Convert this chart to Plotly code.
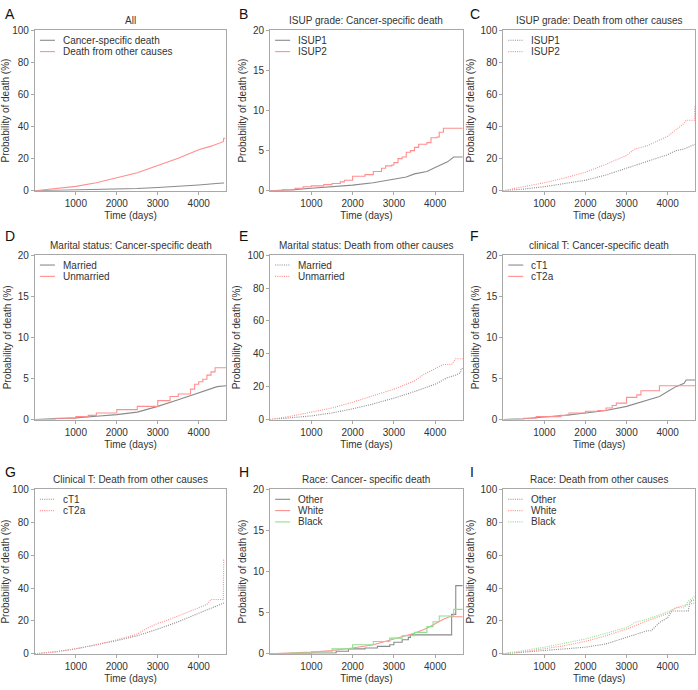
import plotly.graph_objects as go

# ---------------- data (days, % probability of death) ----------------
# A: All
A_t_csd = [0, 500, 1000, 1500, 2000, 2500, 3000, 3500, 4000, 4500, 4620]
A_csd = [0, 0.2, 0.4, 0.7, 1.0, 1.4, 2.0, 2.7, 3.6, 4.6, 4.8]
A_t_oth = [0, 500, 1000, 1500, 2000, 2500, 3000, 3500, 4000, 4300, 4600, 4610, 4650]
A_oth = [0, 1.2, 2.7, 5.0, 7.9, 11.2, 15.7, 20.2, 25.5, 27.8, 30.6, 32.7, 32.7]

# B: ISUP grade, cancer-specific
B_t_isup1 = [0, 500, 1000, 1500, 2000, 2500, 3000, 3300, 3500, 3800, 4000, 4300, 4450, 4670]
B_isup1 = [0, 0.1, 0.3, 0.5, 0.7, 1.0, 1.4, 1.7, 2.1, 2.4, 2.9, 3.6, 4.2, 4.2]
B_t_isup2 = [0, 300, 600, 800, 1000, 1300, 1500, 1700, 1800, 2000, 2300, 2500, 2700, 2800, 2950,
             3000, 3100, 3200, 3300, 3400, 3500, 3600, 3800, 3900, 4050, 4100, 4200, 4670]
B_isup2 = [0, 0.1, 0.3, 0.5, 0.6, 0.75, 0.9, 1.1, 1.3, 1.8, 2.0, 2.4, 2.8, 3.1, 3.2,
           3.5, 4.0, 4.2, 4.8, 5.0, 5.4, 5.8, 6.0, 6.6, 6.7, 7.3, 7.8, 7.8]

# C: ISUP grade, other causes
C_t_isup1 = [0, 500, 1000, 1500, 2000, 2500, 3000, 3500, 4000, 4200, 4400, 4670]
C_isup1 = [0, 1.0, 2.5, 4.3, 6.5, 9.8, 14.0, 18.0, 22.5, 25.0, 26.0, 29.0]
C_t_isup2 = [0, 500, 1000, 1500, 2000, 2500, 3000, 3200, 3500, 4000, 4200, 4400, 4450, 4650, 4660, 4670]
C_isup2 = [0, 2.5, 5.0, 8.0, 11.5, 16.5, 22.0, 26.0, 28.0, 34.0, 38.0, 42.0, 44.0, 44.0, 53.0, 53.0]

# D: Marital status, cancer-specific
D_t_married = [0, 500, 1000, 1500, 2000, 2500, 3000, 3500, 4000, 4300, 4450, 4670]
D_married = [0, 0.1, 0.2, 0.4, 0.6, 0.9, 1.6, 2.4, 3.2, 3.7, 4.0, 4.1]
D_t_unmarried = [0, 500, 1000, 1300, 1500, 2000, 2500, 3000, 3300, 3500, 3800, 3900, 4000,
                 4100, 4200, 4300, 4400, 4670]
D_unmarried = [0, 0.15, 0.35, 0.5, 0.8, 1.2, 1.6, 2.3, 2.8, 3.1, 3.7, 4.3, 4.6,
               4.9, 5.4, 5.8, 6.3, 6.3]

# E: Marital status, other causes
E_t_married = [0, 500, 1000, 1500, 2000, 2500, 3000, 3500, 4000, 4300, 4500, 4620, 4630, 4670]
E_married = [0, 0.9, 2.2, 4.0, 6.5, 9.5, 13.0, 17.0, 21.5, 25.5, 27.0, 28.5, 31.0, 31.0]
E_t_unmarried = [0, 500, 1000, 1500, 2000, 2500, 3000, 3500, 3700, 4000, 4200, 4400, 4500, 4670]
E_unmarried = [0, 2.0, 4.5, 7.0, 10.5, 14.5, 18.5, 23.5, 27.0, 31.0, 33.5, 33.5, 37.0, 37.0]

# F: Clinical T, cancer-specific
F_t_ct1 = [0, 500, 1000, 1500, 2000, 2500, 3000, 3500, 3800, 4000, 4200, 4400, 4450, 4670]
F_ct1 = [0, 0.1, 0.3, 0.5, 0.8, 1.1, 1.6, 2.4, 2.8, 3.4, 4.0, 4.4, 4.8, 4.8]
F_t_ct2a = [0, 500, 800, 1400, 1600, 2000, 2300, 2500, 2650, 2750, 3000, 3250, 3350, 3800, 4670]
F_ct2a = [0, 0.15, 0.35, 0.5, 0.8, 1.0, 1.1, 1.4, 1.7, 2.0, 2.7, 3.0, 3.5, 4.1, 4.1]

# G: Clinical T, other causes
G_t_ct1 = [0, 500, 1000, 1500, 2000, 2500, 3000, 3500, 4000, 4500, 4620]
G_ct1 = [0, 1.2, 3.0, 5.3, 8.0, 11.0, 15.0, 19.5, 24.5, 29.5, 31.0]
G_t_ct2a = [0, 500, 1000, 1500, 2000, 2500, 2700, 3000, 3300, 3600, 3800, 4000, 4200, 4300,
            4600, 4610, 4620]
G_ct2a = [0, 1.2, 3.0, 5.5, 8.5, 12.0, 15.0, 18.5, 21.0, 24.0, 26.0, 28.0, 30.0, 33.0,
          33.0, 57.0, 57.0]

# H: Race, cancer-specific
H_t_other = [0, 1000, 1600, 1900, 2300, 2600, 2900, 3000, 3200, 3350, 3400, 4400, 4450, 4500, 4670]
H_other = [0, 0.1, 0.3, 0.6, 0.7, 0.9, 1.1, 1.4, 1.7, 2.0, 2.3, 4.8, 4.8, 8.3, 8.3]
H_t_white = [0, 500, 1000, 1500, 2000, 2500, 3000, 3500, 3800, 4000, 4200, 4350, 4670]
H_white = [0, 0.1, 0.2, 0.4, 0.7, 1.1, 1.8, 2.5, 3.1, 3.7, 4.2, 4.5, 4.5]
H_t_black = [0, 500, 1000, 1500, 2000, 2500, 2900, 3200, 3500, 3800, 3950, 4100, 4450, 4670]
H_black = [0, 0.1, 0.25, 0.6, 1.1, 1.5, 1.9, 2.2, 2.6, 3.3, 3.9, 4.6, 5.4, 5.4]

# I: Race, other causes
I_t_other = [0, 500, 1000, 1500, 2000, 2500, 3000, 3500, 3600, 3800, 4000, 4100, 4500, 4550, 4670]
I_other = [0, 0.8, 2.0, 3.0, 4.0, 6.0, 10.0, 14.0, 14.0, 19.0, 22.0, 26.0, 26.0, 32.0, 33.0]
I_t_white = [0, 500, 1000, 1500, 2000, 2500, 3000, 3500, 4000, 4200, 4500, 4670]
I_white = [0, 1.2, 3.0, 5.0, 7.5, 11.0, 15.0, 20.0, 24.5, 28.0, 30.0, 31.0]
I_t_black = [0, 500, 1000, 1500, 2000, 2500, 3000, 3200, 3500, 4000, 4200, 4400, 4500, 4670]
I_black = [0, 1.8, 4.0, 6.5, 9.0, 12.5, 16.0, 19.0, 21.0, 25.5, 28.0, 28.0, 32.0, 35.0]

x_tick_vals = [1000, 2000, 3000, 4000]
x_tick_text = ["1000", "2000", "3000", "4000"]
y100_ticks = [0, 20, 40, 60, 80, 100]
y20_ticks = [0, 5, 10, 15, 20]

# ---------------- styling ----------------
GRAY = "#8a8a8a"
RED = "#ff8e8e"
GREEN = "#8fe08f"
FONT = "Liberation Sans, Arial, sans-serif"
DOT = "1px,1.2px"

col_dom = [(0.050, 0.324), (0.387, 0.663), (0.721, 0.996)]
row_dom = [(0.728, 0.964), (0.391, 0.633), (0.046, 0.288)]

panels = [
    ("A", "All", 100, [("Cancer-specific death", A_t_csd, A_csd, GRAY, "solid", "linear"),
                       ("Death from other causes", A_t_oth, A_oth, RED, "solid", "linear")]),
    ("B", "ISUP grade: Cancer-specific death", 20,
     [("ISUP1", B_t_isup1, B_isup1, GRAY, "solid", "linear"),
      ("ISUP2", B_t_isup2, B_isup2, RED, "solid", "hv")]),
    ("C", "ISUP grade: Death from other causes", 100,
     [("ISUP1", C_t_isup1, C_isup1, GRAY, DOT, "linear"),
      ("ISUP2", C_t_isup2, C_isup2, RED, DOT, "linear")]),
    ("D", "Marital status: Cancer-specific death", 20,
     [("Married", D_t_married, D_married, GRAY, "solid", "linear"),
      ("Unmarried", D_t_unmarried, D_unmarried, RED, "solid", "hv")]),
    ("E", "Marital status: Death from other causes", 100,
     [("Married", E_t_married, E_married, GRAY, DOT, "linear"),
      ("Unmarried", E_t_unmarried, E_unmarried, RED, DOT, "linear")]),
    ("F", "clinical T: Cancer-specific death", 20,
     [("cT1", F_t_ct1, F_ct1, GRAY, "solid", "linear"),
      ("cT2a", F_t_ct2a, F_ct2a, RED, "solid", "hv")]),
    ("G", "Clinical T: Death from other causes", 100,
     [("cT1", G_t_ct1, G_ct1, GRAY, DOT, "linear"),
      ("cT2a", G_t_ct2a, G_ct2a, RED, DOT, "linear")]),
    ("H", "Race: Cancer- specific death", 20,
     [("Other", H_t_other, H_other, GRAY, "solid", "hv"),
      ("White", H_t_white, H_white, RED, "solid", "linear"),
      ("Black", H_t_black, H_black, GREEN, "solid", "hv")]),
    ("I", "Race: Death from other causes", 100,
     [("Other", I_t_other, I_other, GRAY, DOT, "linear"),
      ("White", I_t_white, I_white, RED, DOT, "linear"),
      ("Black", I_t_black, I_black, GREEN, DOT, "linear")]),
]

fig = go.Figure()
W, H = 698, 690
layout = dict(
    width=W, height=H,
    margin=dict(l=0, r=0, t=0, b=0),
    paper_bgcolor="white", plot_bgcolor="white",
    font=dict(family=FONT, size=10, color="#333333"),
    showlegend=False,
    annotations=[], shapes=[],
)

for i, (letter, title, ymax, series) in enumerate(panels):
    r, c = divmod(i, 3)
    n = i + 1
    xa = "xaxis" if n == 1 else f"xaxis{n}"
    ya = "yaxis" if n == 1 else f"yaxis{n}"
    xref = "x" if n == 1 else f"x{n}"
    yref = "y" if n == 1 else f"y{n}"
    x0, x1 = col_dom[c]
    y0, y1 = row_dom[r]
    pw = (x1 - x0) * W
    ph = (y1 - y0) * H
    for k, (name, t, v, color, dash, shape) in enumerate(series):
        fig.add_trace(go.Scatter(
            x=t, y=v, mode="lines", name=name,
            line=dict(color=color, width=1.1, dash=dash, shape=shape),
            xaxis=xref, yaxis=yref, showlegend=False,
        ))
        # legend entry (sample line + label) in the panel's top-left corner
        ly = 1 - (10 + 11.5 * k) / ph
        layout["shapes"].append(dict(
            type="line", xref=f"{xref} domain", yref=f"{yref} domain",
            x0=5 / pw, x1=20 / pw, y0=ly, y1=ly,
            line=dict(color=color, width=1.1, dash=dash),
        ))
        layout["annotations"].append(dict(
            text=name, xref=f"{xref} domain", yref=f"{yref} domain",
            x=26 / pw, y=ly, xanchor="left", yanchor="middle", showarrow=False,
            font=dict(size=10, color="#333333"),
        ))
    layout[xa] = dict(
        domain=list(col_dom[c]), anchor=yref, range=[0, 4670],
        tickvals=x_tick_vals, ticktext=x_tick_text,
        showgrid=False, zeroline=False, showline=True, mirror=True,
        linecolor="#a8a8a8", linewidth=1, ticks="outside", ticklen=3,
        tickcolor="#a8a8a8", tickfont=dict(size=10, color="#333333"),
        title=dict(text="Time (days)", font=dict(size=10, color="#333333"), standoff=4),
    )
    layout[ya] = dict(
        domain=list(row_dom[r]), anchor=xref, range=[0, ymax],
        tickvals=y100_ticks if ymax == 100 else y20_ticks,
        showgrid=False, zeroline=False, showline=True, mirror=True,
        linecolor="#a8a8a8", linewidth=1, ticks="outside", ticklen=3,
        tickcolor="#a8a8a8", tickfont=dict(size=10, color="#333333"),
        title=dict(text="Probability of death (%)", font=dict(size=10, color="#333333"), standoff=4),
    )
    layout["annotations"].append(dict(
        text=title, x=(x0 + x1) / 2, y=y1 + 10 / H, xref="paper", yref="paper",
        xanchor="center", yanchor="middle", showarrow=False,
        font=dict(size=10, color="#333333"),
    ))
    letter_x = [3 / W, 237 / W, 468 / W][c]
    letter_y = [1 - 8 / H, 1 - 234 / H, 1 - 474 / H][r]
    layout["annotations"].append(dict(
        text=letter, x=letter_x, y=letter_y, xref="paper", yref="paper",
        xanchor="left", yanchor="middle", showarrow=False,
        font=dict(size=14, color="#111111"),
    ))

fig.update_layout(**layout)
fig.write_html(
    "out.html",
    config={"displayModeBar": False, "staticPlot": True},
    post_script="document.body.style.margin='0';document.body.style.overflow='hidden';",
)
